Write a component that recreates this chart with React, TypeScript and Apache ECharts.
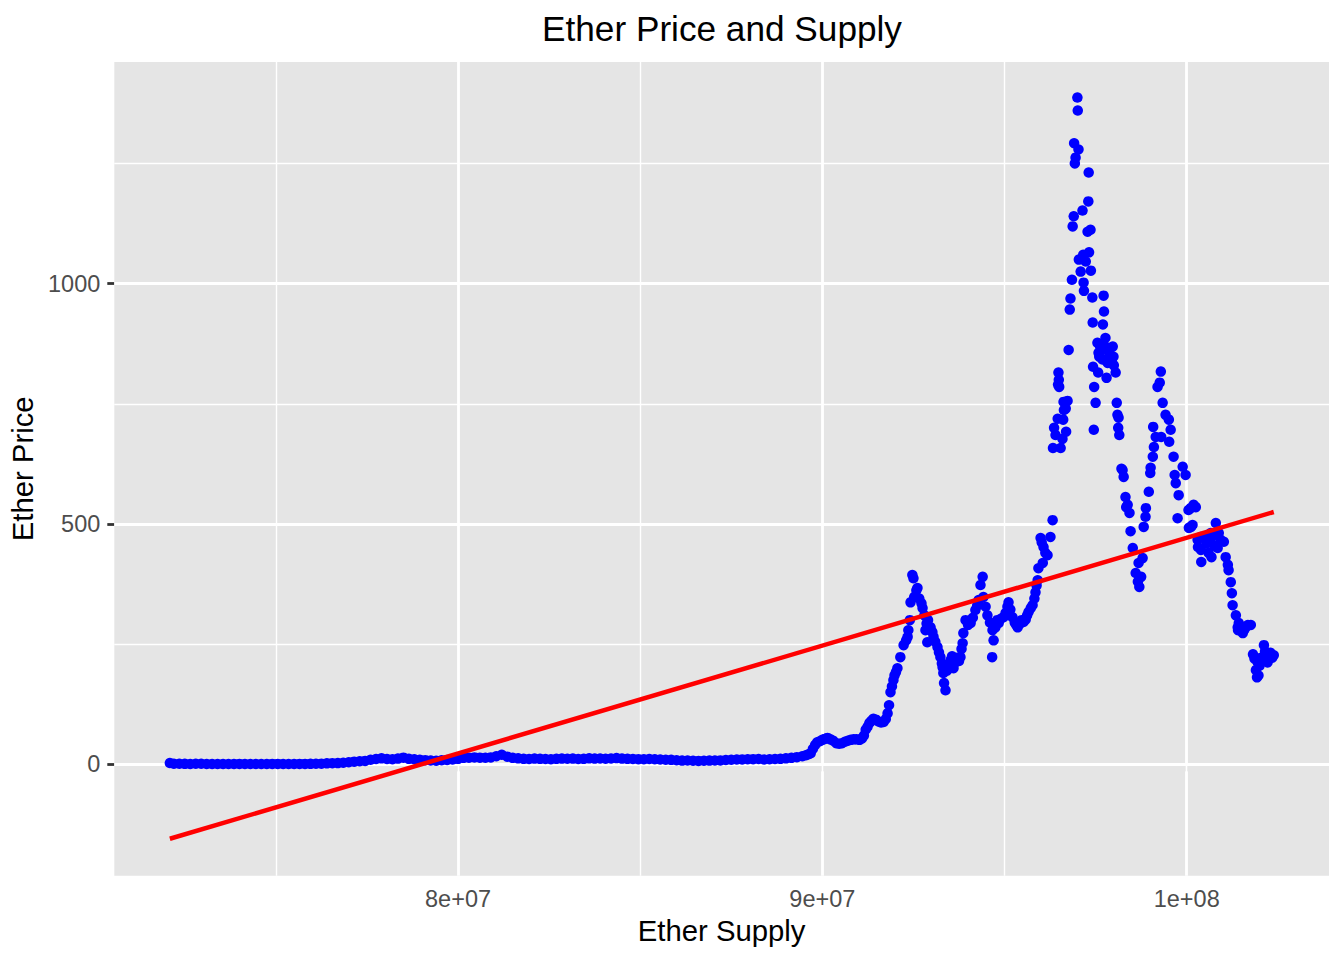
import React, { useEffect, useRef } from "react";
import * as echarts from "echarts";

const FONT = "'Liberation Sans', Arial, Helvetica, sans-serif";

// Chart texts
const TITLE = "Ether Price and Supply";
const X_NAME = "Ether Supply";
const Y_NAME = "Ether Price";

// Axis scale (raw units)
const X_MIN = 70.565e6;
const X_MAX = 103.906e6;
const Y_MIN = -231.6;
const Y_MAX = 1461;

// Ticks / grid
const xTickValues = [80e6, 90e6, 100e6];
const xTickLabels = ["8e+07", "9e+07", "1e+08"];
const xMinorValues = [75e6, 85e6, 95e6];
const yTickValues = [0, 500, 1000];
const yTickLabels = ["0", "500", "1000"];
const yMinorValues = [250, 750, 1250];

// Data: [supply in millions, price]
const flatPhase = [
  [72.09, 2.8], [72.2, 1.3], [72.35, 1.2], [72.5, 1.1], [72.65, 0.9], [72.8, 1.2], [72.95, 1.3], [73.1, 0.9],
  [73.25, 0.8], [73.4, 0.7], [73.55, 0.6], [73.7, 0.6], [73.85, 0.9], [74.0, 1.0], [74.15, 0.9], [74.3, 0.9],
  [74.45, 0.9], [74.6, 0.9], [74.75, 0.9], [74.9, 0.95], [75.05, 0.95], [75.2, 0.9], [75.35, 0.9], [75.5, 0.9],
  [75.65, 1.0], [75.8, 1.0], [75.95, 1.1], [76.1, 1.2], [76.25, 1.5], [76.4, 2.1], [76.55, 2.5], [76.7, 2.6],
  [76.85, 3.5], [77.0, 4.5], [77.15, 5.6], [77.3, 6.5], [77.45, 7.2], [77.6, 9.5], [77.75, 11.0], [77.9, 12.5],
  [78.05, 11.0], [78.2, 10.5], [78.35, 12.0], [78.5, 14.0], [78.65, 11.5], [78.8, 10.5], [78.95, 9.5], [79.1, 8.8],
  [79.25, 8.0], [79.4, 7.6], [79.55, 8.4], [79.7, 9.3], [79.85, 10.0], [80.0, 11.5], [80.15, 13.5], [80.3, 14.0],
  [80.45, 14.5], [80.6, 14.0], [80.75, 13.8], [80.9, 14.5], [81.05, 17.0], [81.2, 20.0], [81.35, 16.0], [81.5, 13.5],
  [81.65, 12.5], [81.8, 11.5], [81.95, 11.0], [82.1, 12.0], [82.25, 11.5], [82.4, 11.0], [82.55, 10.5], [82.7, 11.5],
  [82.85, 12.0], [83.0, 11.8], [83.15, 12.0], [83.3, 11.0], [83.45, 11.5], [83.6, 12.5], [83.75, 12.0], [83.9, 12.2],
  [84.05, 11.8], [84.2, 12.3], [84.35, 13.0], [84.5, 12.0], [84.65, 11.5], [84.8, 11.2], [84.95, 10.8], [85.1, 10.5],
  [85.25, 11.0], [85.4, 10.6], [85.55, 10.0], [85.7, 9.6], [85.85, 9.4], [86.0, 8.5], [86.15, 7.8], [86.3, 7.9],
  [86.45, 7.4], [86.6, 7.2], [86.75, 7.5], [86.9, 7.8], [87.05, 8.0], [87.2, 8.2], [87.35, 9.0], [87.5, 9.5],
  [87.65, 10.0], [87.8, 10.3], [87.95, 10.6], [88.1, 10.8], [88.25, 11.0], [88.4, 10.2], [88.55, 10.5], [88.7, 11.0],
  [88.85, 11.5], [89.0, 12.5], [89.15, 13.5], [89.3, 15.0],
];

const risePhase = [
  [89.45, 17], [89.55, 19], [89.62, 21], [89.68, 23], [89.74, 32], [89.8, 40], [89.86, 46], [89.93, 48],
  [90.0, 51], [90.07, 53], [90.14, 55], [90.22, 52], [90.3, 49], [90.38, 44], [90.46, 43], [90.54, 44],
  [90.62, 47], [90.7, 49], [90.78, 51], [90.86, 52], [90.94, 52], [91.02, 51], [91.09, 54], [91.14, 60],
  [91.19, 72], [91.24, 78], [91.29, 86], [91.34, 90], [91.4, 95], [91.47, 93], [91.54, 89], [91.61, 87],
  [91.68, 88], [91.74, 94], [91.79, 106], [91.83, 123], [91.87, 150], [91.91, 162], [91.95, 175], [91.98, 185],
  [92.02, 192], [92.06, 200],
];

const bullPhase = [
  [92.14, 223], [92.23, 248], [92.3, 258], [92.34, 265], [92.36, 279], [92.4, 300], [92.42, 337], [92.47, 394],
  [92.5, 387], [92.52, 348], [92.58, 362], [92.61, 367], [92.66, 345], [92.72, 335], [92.75, 325], [92.8, 310],
  [92.83, 279], [92.86, 293], [92.88, 254], [92.9, 300], [92.97, 285], [93.02, 275], [93.05, 265], [93.1, 255],
  [93.16, 244], [93.2, 233], [93.24, 223], [93.28, 210], [93.3, 202], [93.32, 190], [93.34, 169], [93.38, 154],
  [93.42, 195], [93.46, 205], [93.52, 217], [93.56, 225], [93.6, 200], [93.65, 212], [93.7, 222], [93.75, 215],
  [93.79, 223], [93.82, 240], [93.85, 252], [93.87, 273], [93.93, 300], [94.0, 290], [94.07, 294], [94.13, 305],
  [94.2, 321], [94.25, 330], [94.29, 342], [94.34, 373], [94.4, 390], [94.42, 348], [94.48, 328], [94.53, 310],
  [94.6, 295], [94.66, 223], [94.67, 279], [94.7, 258], [94.75, 285], [94.8, 300], [94.84, 294], [94.9, 303],
  [94.97, 306], [95.03, 315], [95.08, 328], [95.11, 337], [95.16, 322], [95.22, 306], [95.28, 295], [95.32, 290],
  [95.36, 285], [95.42, 292], [95.47, 300], [95.52, 296], [95.58, 301], [95.62, 310], [95.66, 317], [95.72, 325],
  [95.77, 331], [95.82, 345], [95.85, 358], [95.88, 372], [95.91, 383], [95.93, 408], [95.99, 471], [96.02, 462],
  [96.05, 419], [96.07, 452], [96.12, 440], [96.18, 435], [96.26, 473], [96.32, 508],
];

const peakPhase = [
  [96.33, 658], [96.36, 700], [96.4, 685], [96.46, 719], [96.47, 790], [96.48, 815], [96.49, 800], [96.5, 785],
  [96.54, 658], [96.59, 677], [96.61, 717], [96.62, 754], [96.63, 737], [96.68, 740], [96.69, 692], [96.73, 756],
  [96.76, 862], [96.79, 946], [96.81, 969], [96.85, 1008], [96.87, 1119], [96.9, 1140], [96.91, 1292], [96.93, 1250],
  [96.95, 1262], [97.0, 1387], [97.01, 1360], [97.03, 1279], [97.04, 1050], [97.09, 1025], [97.14, 1152], [97.16, 1060],
  [97.17, 1002], [97.18, 985], [97.23, 1046], [97.28, 1108], [97.3, 1171], [97.31, 1231], [97.32, 1065], [97.36, 1112],
  [97.37, 1027], [97.41, 971], [97.42, 919], [97.43, 827], [97.45, 696], [97.46, 785], [97.5, 752], [97.55, 877],
  [97.57, 815], [97.58, 856], [97.6, 848], [97.62, 870], [97.65, 860], [97.69, 842], [97.7, 915], [97.72, 975],
  [97.73, 942], [97.75, 870], [97.77, 887], [97.8, 804], [97.83, 835], [97.86, 862], [97.88, 855], [97.91, 848],
  [97.94, 840], [97.97, 869], [97.99, 848], [98.0, 830], [98.05, 815], [98.08, 752], [98.1, 727], [98.12, 700],
  [98.13, 721], [98.15, 685],
];

const correctionPhase = [
  [98.21, 615], [98.24, 612], [98.27, 598], [98.32, 556], [98.34, 535], [98.38, 540], [98.43, 523], [98.46, 485],
  [98.52, 450], [98.6, 398], [98.66, 380], [98.68, 419], [98.7, 369], [98.75, 390], [98.79, 429], [98.82, 494],
  [98.87, 515], [98.88, 533], [98.96, 567], [99.0, 606], [99.01, 617], [99.07, 640], [99.08, 702], [99.1, 660],
  [99.15, 681], [99.2, 785], [99.26, 794], [99.29, 817], [99.3, 681], [99.34, 752], [99.42, 727], [99.51, 717],
  [99.52, 671], [99.56, 696], [99.64, 640], [99.67, 602], [99.7, 585], [99.75, 512], [99.78, 560], [99.89, 619],
  [99.97, 602], [100.05, 529], [100.06, 492], [100.11, 533], [100.12, 494], [100.16, 498], [100.19, 540], [100.25, 535],
  [100.3, 467], [100.31, 452], [100.38, 473], [100.39, 446], [100.4, 421], [100.47, 473], [100.55, 460], [100.6, 440],
  [100.66, 481], [100.67, 471], [100.68, 431], [100.75, 455], [100.8, 502], [100.85, 450], [100.88, 481], [100.93, 467],
  [101.02, 463], [101.07, 431], [101.13, 415], [101.15, 404], [101.21, 379], [101.24, 356], [101.26, 331], [101.35, 310],
  [101.4, 285], [101.41, 279], [101.43, 294], [101.48, 282], [101.54, 273], [101.58, 280], [101.62, 285], [101.68, 290],
  [101.76, 290], [101.82, 229], [101.86, 220], [101.9, 196], [101.93, 181], [101.95, 212], [101.97, 185], [102.0, 205],
  [102.05, 222], [102.12, 248], [102.15, 235], [102.2, 220], [102.22, 212], [102.25, 227], [102.3, 232], [102.35, 222],
  [102.39, 227],
];

// Linear fit end points
const fitSupply = [72.09, 102.39];
const fitPrice = [-154.8, 525];

const toPoints = (seg: number[][]) => seg.map(([s, p]) => [s * 1e6, p]);

export default function App() {
  const ref = useRef<HTMLDivElement>(null);

  useEffect(() => {
    if (!ref.current) return;
    const chart = echarts.init(ref.current, null, { renderer: "svg" });

    const points = [
      ...toPoints(flatPhase),
      ...toPoints(risePhase),
      ...toPoints(bullPhase),
      ...toPoints(peakPhase),
      ...toPoints(correctionPhase),
    ];
    const fitLine = fitSupply.map((s, i) => [s * 1e6, fitPrice[i]]);

    const major = { color: "#FFFFFF", width: 2.8, type: "solid" as const };
    const minor = { color: "#FFFFFF", width: 1.4, type: "solid" as const };
    const gridLines = [
      ...xMinorValues.map((v) => ({ xAxis: v, lineStyle: minor })),
      ...yMinorValues.map((v) => ({ yAxis: v, lineStyle: minor })),
      ...xTickValues.map((v) => ({ xAxis: v, lineStyle: major })),
      ...yTickValues.map((v) => ({ yAxis: v, lineStyle: major })),
    ];

    chart.setOption({
      animation: false,
      backgroundColor: "#FFFFFF",
      title: {
        text: TITLE,
        left: 722,
        top: 8,
        padding: 0,
        textAlign: "center",
        textStyle: {
          fontFamily: FONT,
          fontSize: 35.2,
          fontWeight: "normal",
          color: "#000000",
          lineHeight: 40,
        },
      },
      grid: {
        left: 114.3,
        right: 15,
        top: 62,
        bottom: 84.3,
        show: true,
        backgroundColor: "#E5E5E5",
        borderWidth: 0,
        containLabel: false,
        outerBoundsMode: "none",
      },
      xAxis: {
        type: "value",
        min: X_MIN,
        max: X_MAX,
        name: X_NAME,
        nameLocation: "middle",
        nameGap: 39,
        nameTextStyle: { fontFamily: FONT, fontSize: 29.3, color: "#000000", lineHeight: 30 },
        axisLine: { show: false },
        splitLine: { show: false },
        axisTick: {
          show: true,
          customValues: xTickValues,
          length: 7,
          lineStyle: { color: "#333333", width: 2.8 },
        },
        axisLabel: {
          customValues: xTickValues,
          formatter: (v: number) => {
            const i = xTickValues.indexOf(v);
            return i >= 0 ? xTickLabels[i] : "";
          },
          margin: 11,
          fontFamily: FONT,
          fontSize: 23.5,
          lineHeight: 24,
          color: "#4D4D4D",
        },
      },
      yAxis: {
        type: "value",
        min: Y_MIN,
        max: Y_MAX,
        name: Y_NAME,
        nameLocation: "middle",
        nameGap: 74,
        nameTextStyle: { fontFamily: FONT, fontSize: 29.3, color: "#000000", lineHeight: 30 },
        axisLine: { show: false },
        splitLine: { show: false },
        axisTick: {
          show: true,
          customValues: yTickValues,
          length: 7,
          lineStyle: { color: "#333333", width: 2.8 },
        },
        axisLabel: {
          customValues: yTickValues,
          formatter: (v: number) => {
            const i = yTickValues.indexOf(v);
            return i >= 0 ? yTickLabels[i] : "";
          },
          margin: 14,
          fontFamily: FONT,
          fontSize: 23.5,
          lineHeight: 24,
          color: "#4D4D4D",
        },
      },
      series: [
        {
          type: "line",
          data: [],
          silent: true,
          z: 1,
          markLine: {
            silent: true,
            z: 1,
            symbol: ["none", "none"],
            label: { show: false },
            emphasis: { disabled: true },
            data: gridLines,
          },
        },
        {
          type: "scatter",
          data: points,
          symbol: "circle",
          symbolSize: 10.5,
          z: 3,
          itemStyle: { color: "#0000FF", opacity: 1 },
          silent: true,
        },
        {
          type: "line",
          data: fitLine,
          showSymbol: false,
          symbol: "none",
          z: 4,
          silent: true,
          lineStyle: { color: "#FF0000", width: 4.5 },
        },
      ],
    });

    return () => chart.dispose();
  }, []);

  return (
    <div
      ref={ref}
      style={{ position: "absolute", left: 0, top: 0, width: 1344, height: 960 }}
    />
  );
}
